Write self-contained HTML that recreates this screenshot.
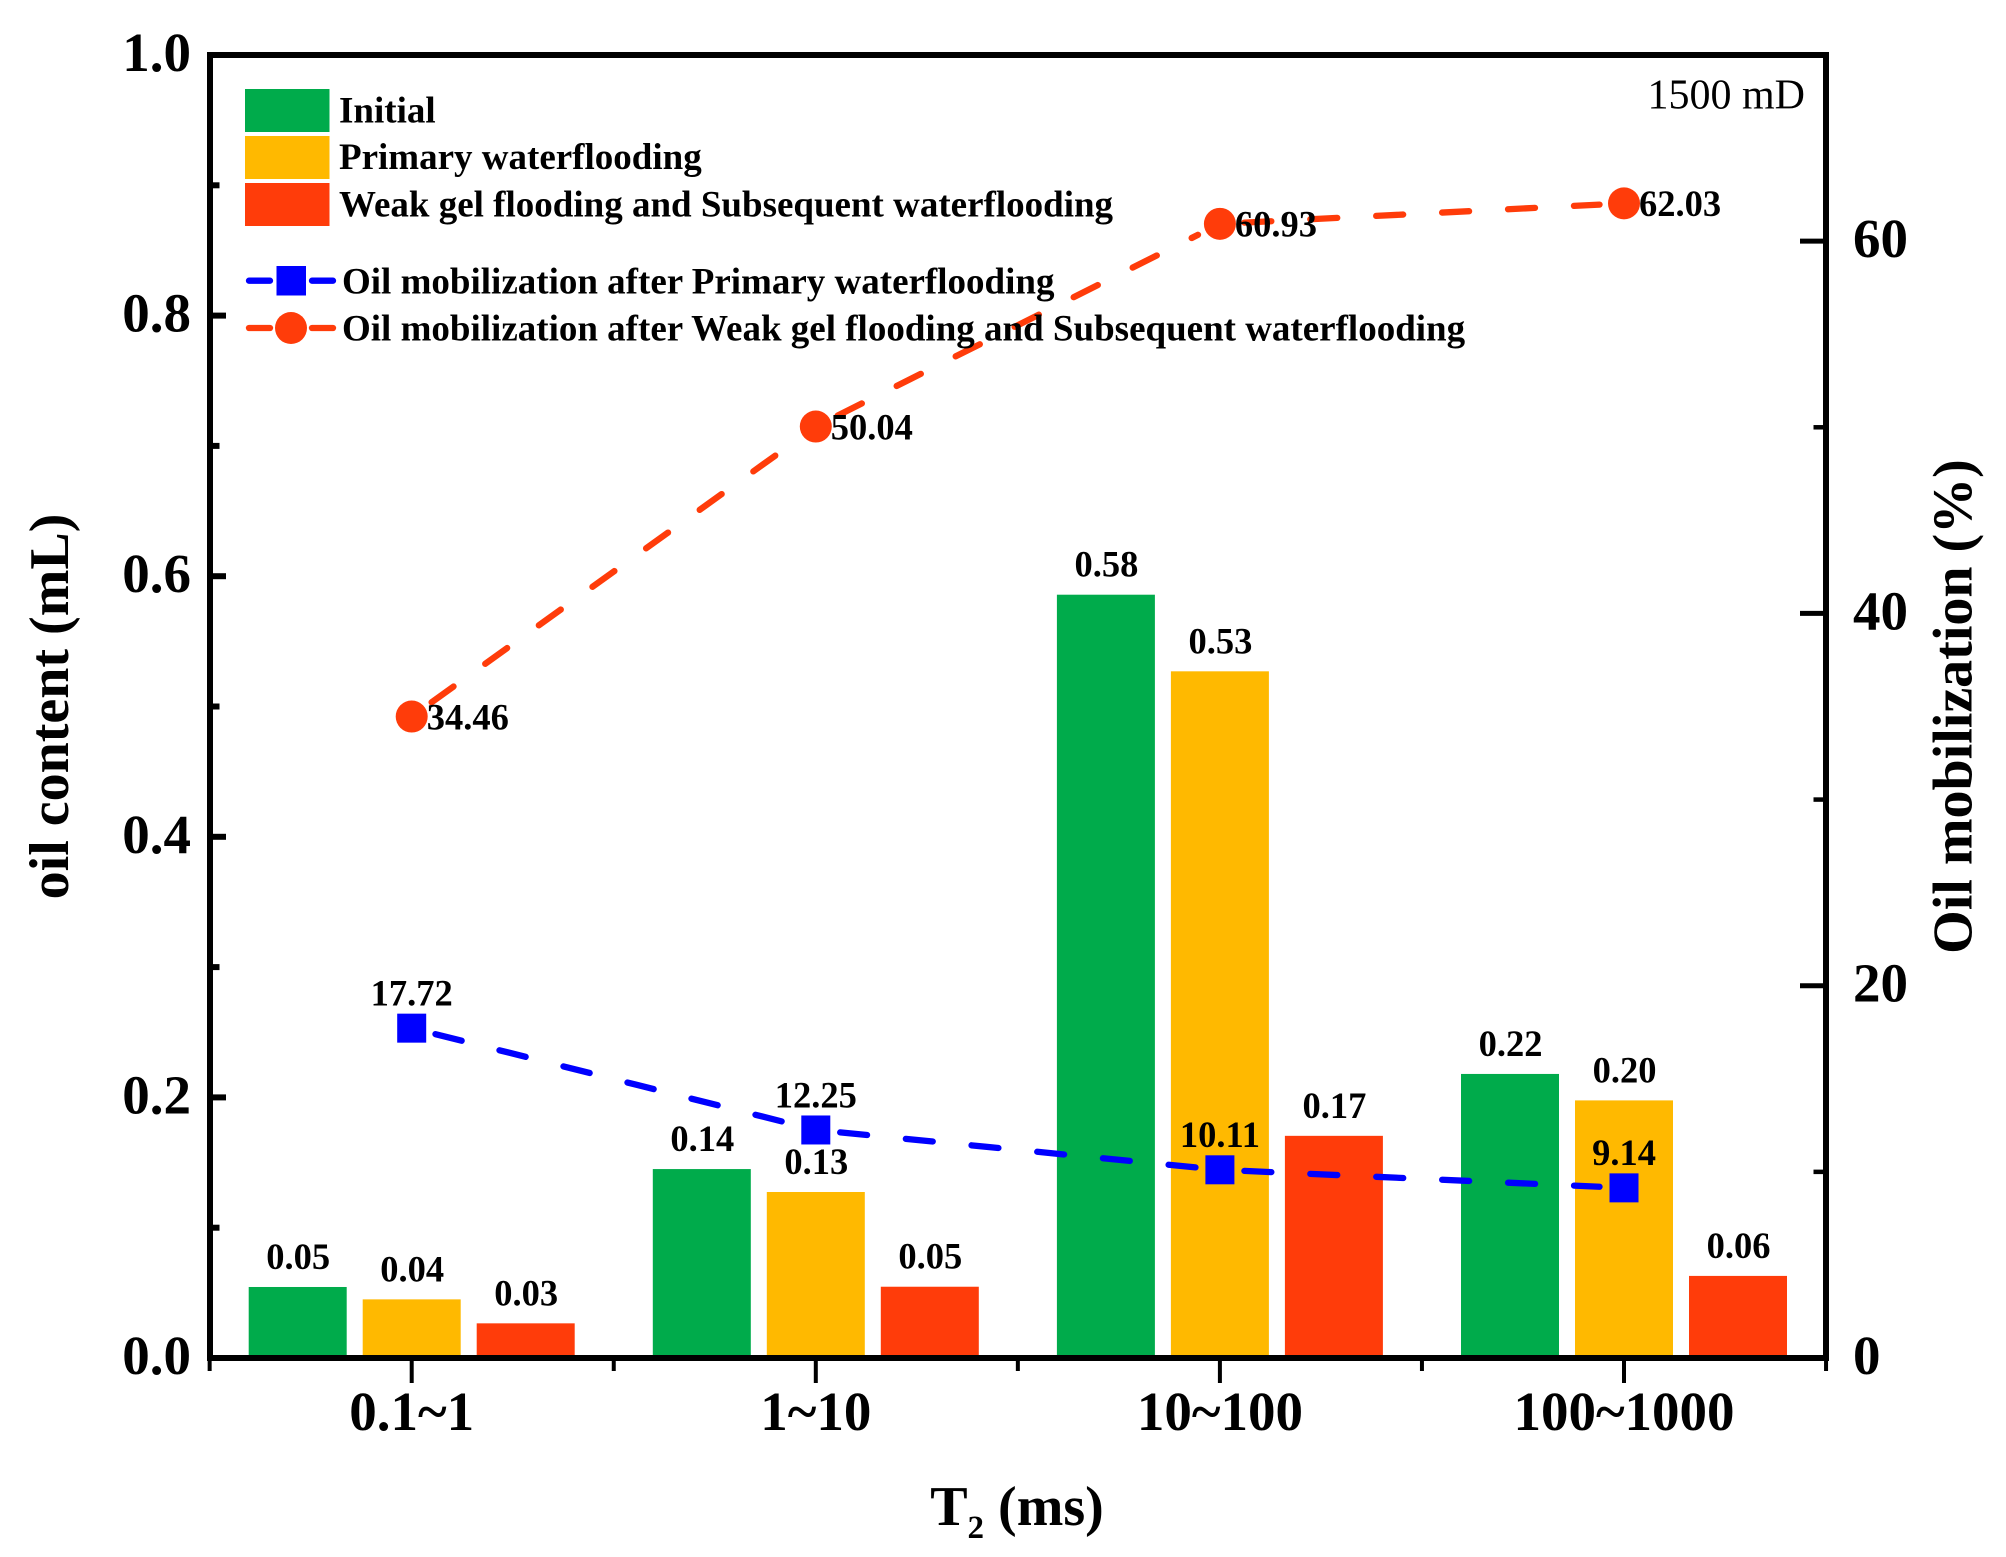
<!DOCTYPE html>
<html lang="en">
<head>
<meta charset="utf-8">
<title>Oil content and oil mobilization by T2 range</title>
<style>
html,body{margin:0;padding:0;background:#fff;}
svg{display:block;}
text{font-family:"Liberation Serif",serif;fill:#000;}
.b{font-weight:bold;}
</style>
</head>
<body>
<svg id="chart" xmlns="http://www.w3.org/2000/svg" width="2006" height="1557" viewBox="0 0 2006 1557">
  <rect x="0" y="0" width="2006" height="1557" fill="#fff"/>
  <g id="bars"></g>
  <g id="lines"></g>
  <g id="axes"></g>
  <g id="labels"></g>

  <g>
    <rect x="245" y="89" width="84.5" height="43" fill="#00AB4B"/>
    <rect x="245" y="136" width="84.5" height="43" fill="#FFB900"/>
    <rect x="245" y="183" width="84.5" height="43" fill="#FF3C0A"/>
    <text class="b" x="339" y="122.5" font-size="37">Initial</text>
    <text class="b" x="339" y="169" font-size="37">Primary waterflooding</text>
    <text class="b" x="339" y="216.5" font-size="37">Weak gel flooding and Subsequent waterflooding</text>
    <line x1="249" y1="280.7" x2="270" y2="280.7" stroke="#0000FF" stroke-width="6.3" stroke-linecap="round"/>
    <line x1="312" y1="280.7" x2="333" y2="280.7" stroke="#0000FF" stroke-width="6.3" stroke-linecap="round"/>
    <rect x="276.5" y="266" width="29.5" height="29.5" fill="#0000FF"/>
    <text class="b" x="342" y="293.3" font-size="37">Oil mobilization after Primary waterflooding</text>
    <line x1="249" y1="328" x2="270" y2="328" stroke="#FF3C0A" stroke-width="6.3" stroke-linecap="round"/>
    <line x1="312" y1="328" x2="333" y2="328" stroke="#FF3C0A" stroke-width="6.3" stroke-linecap="round"/>
    <circle cx="291" cy="328" r="16" fill="#FF3C0A"/>
    <text class="b" x="342" y="340.7" font-size="37">Oil mobilization after Weak gel flooding and Subsequent waterflooding</text>
  </g>

  <text x="1805" y="108.7" font-size="42" text-anchor="end">1500 mD</text>
  <text class="b" x="1017" y="1525" font-size="56" text-anchor="middle">T<tspan font-size="33" dy="13">2</tspan><tspan dy="-13"> (ms)</tspan></text>
  <text class="b" transform="translate(68 706.5) rotate(-90)" font-size="56" text-anchor="middle">oil content (mL)</text>
  <text class="b" transform="translate(1971.5 706.5) rotate(-90)" font-size="56" text-anchor="middle">Oil mobilization (%)</text>
</svg>

<script>
const categories = ["0.1~1", "1~10", "10~100", "100~1000"];
const initialValues = [0.0545, 0.145, 0.5858, 0.218];
const primaryValues = [0.045, 0.1274, 0.527, 0.1977];
const weakGelValues = [0.0266, 0.0547, 0.1705, 0.063];
const initialLabels = ["0.05", "0.14", "0.58", "0.22"];
const primaryLabels = ["0.04", "0.13", "0.53", "0.20"];
const weakGelLabels = ["0.03", "0.05", "0.17", "0.06"];
const mobilizationPrimary = [17.72, 12.25, 10.11, 9.14];
const mobilizationWeakGel = [34.46, 50.04, 60.93, 62.03];
const leftTicks = [0, 0.2, 0.4, 0.6, 0.8, 1.0];
const leftMinorTicks = [0.1, 0.3, 0.5, 0.7, 0.9];
const rightTicks = [0, 20, 40, 60];
const rightMinorTicks = [10, 30, 50, 70];

const SVGNS = "http://www.w3.org/2000/svg";
const AXIS_BOTTOM = 1358, AXIS_TOP = 55, AXIS_LEFT = 210, AXIS_RIGHT = 1826;
const CAT_START = 411.7, CAT_STEP = 404.1;
const BAR_WIDTH = 98, BAR_STEP = 114;
const LEFT_MAX = 1, RIGHT_MAX = 70;
const VALUE_FONT = 36.5, TICK_FONT = 55;

function xAxis(i) { return CAT_START + CAT_STEP * i; }
function yLeft(v) { return AXIS_BOTTOM - (AXIS_BOTTOM - AXIS_TOP) * v / LEFT_MAX; }
function yRight(v) { return AXIS_BOTTOM - (AXIS_BOTTOM - AXIS_TOP) * v / RIGHT_MAX; }

function make(parent, tag, attrs, text) {
  const el = document.createElementNS(SVGNS, tag);
  for (const k in attrs) el.setAttribute(k, attrs[k]);
  if (text !== undefined) el.textContent = text;
  parent.appendChild(el);
  return el;
}

const barsLayer = document.getElementById("bars");
const linesLayer = document.getElementById("lines");
const axesLayer = document.getElementById("axes");
const labelsLayer = document.getElementById("labels");

/* bars and their value labels */
const barOffsets = [-BAR_STEP, 0, BAR_STEP];
const barColors = ["#00AB4B", "#FFB900", "#FF3C0A"];
const barSeries = [initialValues, primaryValues, weakGelValues];
const barLabelSeries = [initialLabels, primaryLabels, weakGelLabels];
barSeries.forEach(function (values, s) {
  values.forEach(function (v, i) {
    const cx = xAxis(i) + barOffsets[s];
    const top = yLeft(v);
    const bar = make(barsLayer, "rect", { x: cx - BAR_WIDTH / 2, y: top, width: BAR_WIDTH, height: AXIS_BOTTOM - top, fill: barColors[s] });
    
    
    const lab = make(labelsLayer, "text", { x: cx + 0.5, y: top - 18, "font-size": VALUE_FONT, "font-weight": "bold", "text-anchor": "middle" }, barLabelSeries[s][i]);
    
    
  });
});

/* dashed lines: each segment is trimmed near its markers and dashed from its left end */
function drawSeries(values, color) {
  for (let i = 0; i < values.length - 1; i++) {
    const x1 = xAxis(i), y1 = yRight(values[i]);
    const x2 = xAxis(i + 1), y2 = yRight(values[i + 1]);
    const len = Math.hypot(x2 - x1, y2 - y1);
    const ux = (x2 - x1) / len, uy = (y2 - y1) / len;
    const startTrim = 24.5, endTrim = 24.5;
    const seg = make(linesLayer, "line", {
      x1: x1 + ux * startTrim, y1: y1 + uy * startTrim,
      x2: x2 - ux * endTrim, y2: y2 - uy * endTrim,
      stroke: color, "stroke-width": 6.3, "stroke-linecap": "round", "stroke-dasharray": "27 39"
    });
    
    
  }
}
drawSeries(mobilizationPrimary, "#0000FF");
drawSeries(mobilizationWeakGel, "#FF3C0A");

mobilizationPrimary.forEach(function (v, i) {
  const x = xAxis(i), y = yRight(v);
  const m = make(linesLayer, "rect", { x: x - 14.5, y: y - 14.5, width: 29, height: 29, fill: "#0000FF" });
  
  
  const t = make(labelsLayer, "text", { x: x, y: y - 22.7, "font-size": VALUE_FONT, "font-weight": "bold", "text-anchor": "middle" }, v.toFixed(2));
  
  
});
mobilizationWeakGel.forEach(function (v, i) {
  const x = xAxis(i), y = yRight(v);
  const m = make(linesLayer, "circle", { cx: x, cy: y, r: 16, fill: "#FF3C0A" });
  
  
  const t = make(labelsLayer, "text", { x: x + 15, y: y + 12.8, "font-size": VALUE_FONT, "font-weight": "bold" }, v.toFixed(2));
  
  
});

/* axes frame */
const frame = make(axesLayer, "rect", { x: AXIS_LEFT, y: AXIS_TOP, width: AXIS_RIGHT - AXIS_LEFT, height: AXIS_BOTTOM - AXIS_TOP, fill: "none", stroke: "#000", "stroke-width": 6 });



/* left axis */
leftTicks.forEach(function (v) {
  const y = yLeft(v);
  const tick = make(axesLayer, "line", { x1: AXIS_LEFT, y1: y, x2: AXIS_LEFT + 16, y2: y, stroke: "#000", "stroke-width": 6 });
  
  
  const lab = make(axesLayer, "text", { x: 191, y: y + 16, "font-size": TICK_FONT, "font-weight": "bold", "text-anchor": "end" }, v.toFixed(1));
  
  
});
leftMinorTicks.forEach(function (v) {
  const y = yLeft(v);
  const tick = make(axesLayer, "line", { x1: AXIS_LEFT, y1: y, x2: AXIS_LEFT + 9.5, y2: y, stroke: "#000", "stroke-width": 6 });
  
  
});

/* right axis */
rightTicks.forEach(function (v) {
  const y = yRight(v);
  const tick = make(axesLayer, "line", { x1: AXIS_RIGHT, y1: y, x2: AXIS_RIGHT - 26, y2: y, stroke: "#000", "stroke-width": 5 });
  
  
  const lab = make(axesLayer, "text", { x: 1853, y: y + 16, "font-size": TICK_FONT, "font-weight": "bold" }, String(v));
  
  
});
rightMinorTicks.forEach(function (v) {
  const y = yRight(v);
  const tick = make(axesLayer, "line", { x1: AXIS_RIGHT, y1: y, x2: AXIS_RIGHT - 12.5, y2: y, stroke: "#000", "stroke-width": 4.5 });
  
  
});

/* x axis */
categories.forEach(function (c, i) {
  const x = xAxis(i);
  const tick = make(axesLayer, "line", { x1: x, y1: AXIS_BOTTOM, x2: x, y2: 1383, stroke: "#000", "stroke-width": 4 });
  
  
  const lab = make(axesLayer, "text", { x: x, y: 1430, "font-size": TICK_FONT, "font-weight": "bold", "text-anchor": "middle" }, c);
  
  
});
for (let i = 0; i <= categories.length; i++) {
  const x = xAxis(i) - CAT_STEP / 2;
  const tick = make(axesLayer, "line", { x1: x, y1: AXIS_BOTTOM, x2: x, y2: 1371, stroke: "#000", "stroke-width": 4 });
  
  
}
</script>
</body>
</html>
